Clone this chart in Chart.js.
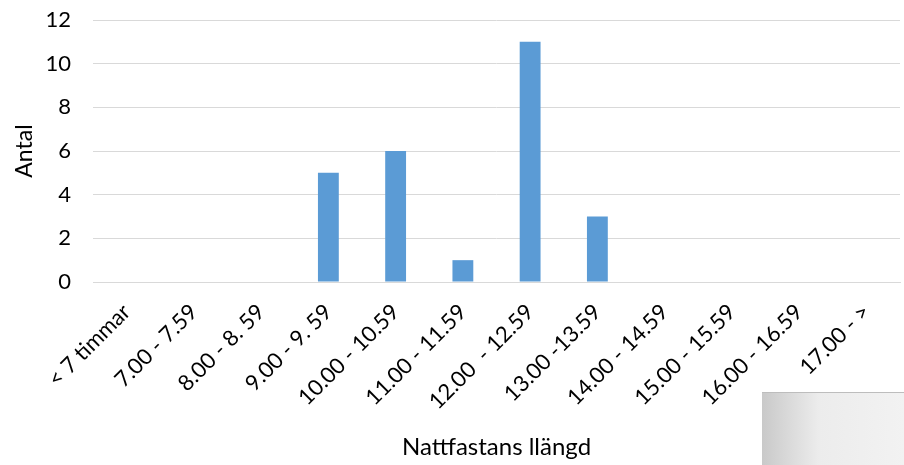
<!DOCTYPE html>
<html>
<head>
<meta charset="utf-8">
<script src="https://cdn.jsdelivr.net/npm/chart.js@4"></script>
<style>
  body { margin: 0; background: #fff; }
  #wrap { position: relative; width: 904px; height: 465px; }
  #box {
    position: absolute; left: 762px; top: 392px; width: 142px; height: 73px;
    background: linear-gradient(to right, #c9c9c9, #ececec 40%, #f2f2f2);
    border-top: 1px solid #bdbdbd;
  }
</style>
</head>
<body>
<div id="wrap">
  <canvas id="grafico" width="904" height="465"></canvas>
  <div id="box"></div>
</div>
<script>
const kategorier = ['< 7 timmar', '7.00 - 7.59', '8.00 - 8. 59', '9.00 - 9. 59', '10.00 - 10.59',
  '11.00 - 11.59', '12.00  - 12.59', '13.00 -13.59', '14.00 - 14.59', '15.00 - 15.59',
  '16.00 - 16.59', '17.00 - >'];
const antal = [0, 0, 0, 5, 6, 1, 11, 3, 0, 0, 0, 0];

const ctx = document.getElementById('grafico');

new Chart(ctx, {
    type: 'bar',
    data: {
        labels: kategorier,
        datasets: [
            {
                label: 'Antal',
                data: antal,
                backgroundColor: '#5b9bd5',
                barPercentage: 0.31,
                categoryPercentage: 1.0
            }
        ]
    },
    options: {
        responsive: false,
        animation: false,
        layout: { padding: { left: 7, right: 4, top: 20, bottom: 0 } },
        plugins: { legend: { display: false }, tooltip: { enabled: false } },
        scales: {
            x: {
                grid: { display: false },
                border: { color: '#d9d9d9', width: 1 },
                ticks: {
                    minRotation: 45, maxRotation: 45, autoSkip: false, padding: 9,
                    color: '#000', font: { family: 'Lato', size: 22 }
                },
                title: {
                    display: true, text: 'Nattfastans llängd', color: '#000',
                    font: { family: 'Lato', size: 24 }, padding: { top: 10, bottom: 3 }
                },
                afterFit: (scale) => {
                    scale.paddingLeft = 0;
                    scale.paddingRight = 0;
                    scale.height = 183;
                }
            },
            y: {
                min: 0, max: 12,
                ticks: { stepSize: 2, color: '#000', font: { family: 'Lato', size: 22 }, padding: 22 },
                grid: { color: '#d9d9d9', drawTicks: false },
                border: { display: false },
                title: {
                    display: true, text: 'Antal', color: '#000',
                    font: { family: 'Lato', size: 23 }
                },
                afterFit: (scale) => {
                    scale.paddingTop = 0;
                    scale.paddingBottom = 0;
                    scale.width = 86;
                }
            }
        }
    }
});
</script>
</body>
</html>
